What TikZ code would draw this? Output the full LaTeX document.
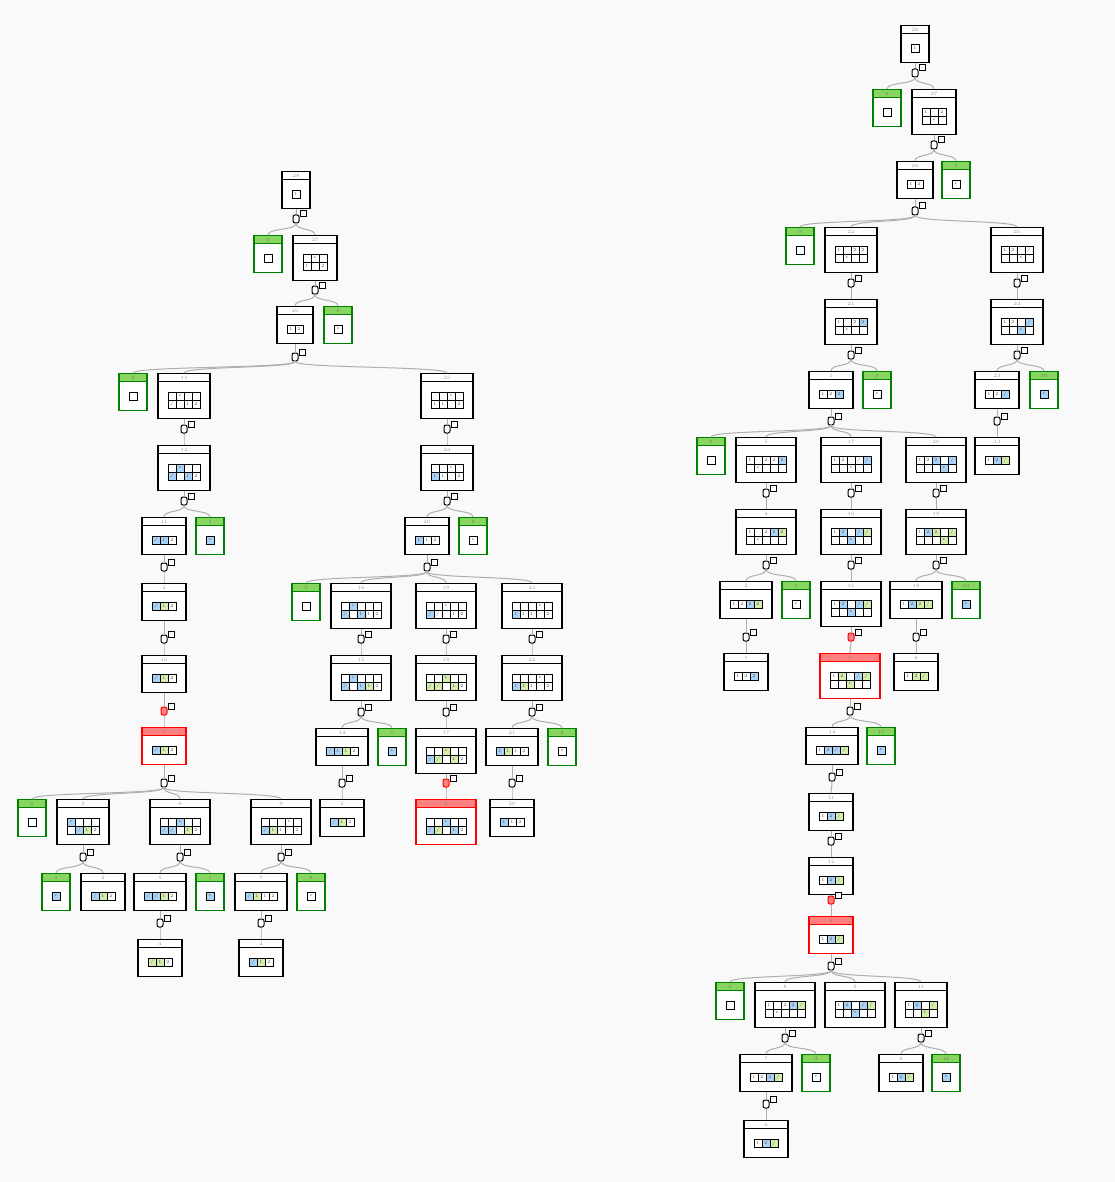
\documentclass[tikz,border=0pt]{standalone}
\usepackage{tikz}
\usetikzlibrary{calc}
\definecolor{bg}{RGB}{249,249,249}
\definecolor{okline}{RGB}{0,128,0}
\definecolor{okhead}{RGB}{136,214,96}
\definecolor{badhead}{RGB}{255,128,128}
\definecolor{cw}{RGB}{255,255,255}
\definecolor{cb}{RGB}{170,210,245}
\definecolor{cg}{RGB}{212,236,172}
\definecolor{conngray}{RGB}{175,175,175}
\definecolor{lbl}{RGB}{150,150,150}
\tikzset{
  st box/.style={draw=black, fill=white, line width=1.2pt, inner sep=0pt},
  st head/.style={draw=black, fill=white, line width=1.2pt, inner sep=0pt, text=lbl, font=\fontsize{5}{5}\selectfont},
  ok box/.style={draw=okline, fill=white, line width=1.2pt, inner sep=0pt},
  ok head/.style={draw=okline, fill=okhead, line width=1.2pt, inner sep=0pt, text=black!55, font=\fontsize{5}{5}\selectfont},
  bad box/.style={draw=red, fill=white, line width=1.2pt, inner sep=0pt},
  bad head/.style={draw=red, fill=badhead, line width=1.2pt, inner sep=0pt, text=black!50, font=\fontsize{5}{5}\selectfont},
  cell/.style={draw, line width=0.9pt, minimum size=8pt, inner sep=0pt, text=black!70, font=\fontsize{4.5}{4.5}\selectfont},
  jn/.style={draw, fill=white, line width=1pt, rounded corners=2pt, minimum width=6pt, minimum height=8pt, inner sep=0pt, font=\fontsize{3}{3}\selectfont},
  jnbad/.style={jn, draw=red, fill=badhead},
  flag/.style={draw, fill=white, line width=1pt, minimum size=6pt, inner sep=0pt, font=\fontsize{3}{3}\selectfont},
  conn/.style={draw=conngray, line width=1pt},
}
% box with a header: type, name, top centre, columns, rows, label
\newcommand\stbox[6]{%
  \node[#1 box, minimum width={8*#4+20}, minimum height={29+8*#5}, anchor=north] (#2) at (#3) {};
  \node[#1 head, minimum width={8*#4+20}, minimum height=8, anchor=north] (#2h) at (#2.north) {#6};
}
% one row of cells: box, offset, columns, list
\newcommand\cellrow[4]{%
  \foreach \c/\t [count=\i] in {#4}{
    \node[cell, fill=c\c] (#1-\i-#2) at ([shift={({(\i-(#3+1)/2)*8},#2)}]#1.center) {\t};
  }
}
% junction under a parent: name, parent, first child, style
\newcommand\jnode[4]{%
  \node[#4] (#1) at ($(#2.south |- #3.north)+(0,-16)$) {};
  \node[flag] (#1f) at ([shift={(7,-5)}]#1.center) {-};
  \draw[conn] (#2.south) -- (#1.north);
}
\newcommand\fan[2]{\foreach \k in {#2}{\draw[conn] (#1.south) .. controls +(0,7) and +(0,-7) .. (\k.north);}}
\newcommand\dt{\textbullet}
\newcommand\cslash{/}
\begin{document}
\begin{tikzpicture}[x=1pt, y=-1pt]
\fill[bg] (0,0) rectangle (1115,1182);
\useasboundingbox (0,0) rectangle (1115,1182);

% left tree
\stbox{st}{a28}{296,171}{1}{1}{28} \cellrow{a28}{4}{1}{w/1}
\stbox{ok}{a0}{268,235}{1}{1}{0} \cellrow{a0}{4}{1}{w/{}}
\stbox{st}{a27}{315,235}{3}{2}{27} \cellrow{a27}{0}{3}{w/{},w/\dt,w/{}} \cellrow{a27}{8}{3}{w/1,w/{},w/2}
\stbox{st}{a26}{295,306}{2}{1}{26} \cellrow{a26}{4}{2}{w/1,w/2}
\stbox{ok}{a8}{338,306}{1}{1}{8} \cellrow{a8}{4}{1}{w/\dt}
\stbox{ok}{a0b}{133,373}{1}{1}{0} \cellrow{a0b}{4}{1}{w/{}}
\stbox{st}{a13}{184,373}{4}{2}{13} \cellrow{a13}{0}{4}{w/{},w/\dt,w/{},w/{}} \cellrow{a13}{8}{4}{w/\cslash,w/{},w/1,w/2}
\stbox{st}{a12}{184,445}{4}{2}{12} \cellrow{a12}{0}{4}{w/{},b/\dt,w/{},w/{}} \cellrow{a12}{8}{4}{b/\cslash,w/{},b/1,w/2}
\stbox{st}{a11}{164,517}{3}{1}{11} \cellrow{a11}{4}{3}{b/\cslash,b/1,w/2}
\stbox{ok}{a1}{210,517}{1}{1}{1} \cellrow{a1}{4}{1}{b/\dt}
\stbox{st}{a4}{164,583}{3}{1}{4} \cellrow{a4}{4}{3}{b/\cslash,g/1,w/2}
\stbox{st}{a10}{164,655}{3}{1}{10} \cellrow{a10}{4}{3}{b/\cslash,g/1,w/2}
\stbox{bad}{a3}{164,727}{3}{1}{3} \cellrow{a3}{4}{3}{b/\cslash,g/1,w/2}
\stbox{ok}{b0}{32,799}{1}{1}{0} \cellrow{b0}{4}{1}{w/{}}
\stbox{st}{b3}{83,799}{4}{2}{3} \cellrow{b3}{0}{4}{b/\dt,w/{},w/{},w/{}} \cellrow{b3}{8}{4}{w/{},b/\cslash,g/1,w/2}
\stbox{st}{b6}{180,799}{5}{2}{6} \cellrow{b6}{0}{5}{w/{},w/{},b/\dt,w/{},w/{}} \cellrow{b6}{8}{5}{b/\cslash,b/\cslash,w/{},g/1,w/2}
\stbox{st}{b9}{281,799}{5}{2}{9} \cellrow{b9}{0}{5}{w/{},w/{},w/{},w/\dt,w/{}} \cellrow{b9}{8}{5}{b/\cslash,g/1,w/1,w/{},w/2}
\stbox{ok}{b1}{56,873}{1}{1}{1} \cellrow{b1}{4}{1}{b/\dt}
\stbox{st}{b2}{103,873}{3}{1}{2} \cellrow{b2}{4}{3}{b/\cslash,g/1,w/2}
\stbox{st}{b5}{160,873}{4}{1}{5} \cellrow{b5}{4}{4}{b/\cslash,b/\cslash,g/1,w/2}
\stbox{ok}{b1b}{210,873}{1}{1}{1} \cellrow{b1b}{4}{1}{b/\dt}
\stbox{st}{b7}{261,873}{4}{1}{7} \cellrow{b7}{4}{4}{b/\cslash,g/1,w/1,w/2}
\stbox{ok}{b8}{311,873}{1}{1}{8} \cellrow{b8}{4}{1}{w/\dt}
\stbox{st}{b4}{160,939}{3}{1}{4} \cellrow{b4}{4}{3}{g/\cslash,g/1,w/2}
\stbox{st}{b2b}{261,939}{3}{1}{2} \cellrow{b2b}{4}{3}{b/\cslash,g/1,w/2}

% middle tree
\stbox{st}{a25}{447,373}{4}{2}{25} \cellrow{a25}{0}{4}{w/{},w/{},w/\dt,w/{}} \cellrow{a25}{8}{4}{w/1,w/1,w/{},w/2}
\stbox{st}{a24}{447,445}{4}{2}{24} \cellrow{a24}{0}{4}{w/{},w/{},w/\dt,w/{}} \cellrow{a24}{8}{4}{b/1,w/1,w/{},w/2}
\stbox{st}{a20}{427,517}{3}{1}{20} \cellrow{a20}{4}{3}{b/1,w/1,w/2}
\stbox{ok}{a8b}{473,517}{1}{1}{8} \cellrow{a8b}{4}{1}{w/\dt}
\stbox{ok}{c0}{306,583}{1}{1}{0} \cellrow{c0}{4}{1}{w/{}}
\stbox{st}{c16}{361,583}{5}{2}{16} \cellrow{c16}{0}{5}{w/{},b/\dt,w/{},w/{},w/{}} \cellrow{c16}{8}{5}{b/\cslash,w/{},b/1,w/1,w/2}
\stbox{st}{c19}{446,583}{5}{2}{19} \cellrow{c19}{0}{5}{w/{},w/{},w/\dt,w/{},w/{}} \cellrow{c19}{8}{5}{b/\cslash,w/\cslash,w/{},w/1,w/2}
\stbox{st}{c23}{532,583}{5}{2}{23} \cellrow{c23}{0}{5}{w/{},w/{},w/{},w/\dt,w/{}} \cellrow{c23}{8}{5}{b/1,w/1,w/1,w/{},w/2}
\stbox{st}{c15}{361,655}{5}{2}{15} \cellrow{c15}{0}{5}{w/{},b/\dt,w/{},w/{},w/{}} \cellrow{c15}{8}{5}{b/\cslash,w/{},b/1,g/1,w/2}
\stbox{st}{c18}{446,655}{5}{2}{18} \cellrow{c18}{0}{5}{w/{},w/{},g/\dt,w/{},w/{}} \cellrow{c18}{8}{5}{g/\cslash,g/\cslash,w/{},g/1,w/2}
\stbox{st}{c22}{532,655}{5}{2}{22} \cellrow{c22}{0}{5}{w/{},w/{},w/{},w/\dt,w/{}} \cellrow{c22}{8}{5}{b/1,g/1,w/1,w/{},w/2}
\stbox{st}{c14}{342,728}{4}{1}{14} \cellrow{c14}{4}{4}{b/\cslash,b/1,g/1,w/2}
\stbox{ok}{c1}{392,728}{1}{1}{1} \cellrow{c1}{4}{1}{b/\dt}
\stbox{st}{c17}{446,728}{5}{2}{17} \cellrow{c17}{0}{5}{w/{},w/{},g/\dt,w/{},w/{}} \cellrow{c17}{8}{5}{b/\cslash,g/\cslash,w/{},g/1,w/2}
\stbox{st}{c21}{512,728}{4}{1}{21} \cellrow{c21}{4}{4}{b/1,g/1,w/1,w/2}
\stbox{ok}{c8}{562,728}{1}{1}{8} \cellrow{c8}{4}{1}{w/\dt}
\stbox{st}{c2}{342,799}{3}{1}{2} \cellrow{c2}{4}{3}{b/\cslash,g/1,w/2}
\stbox{bad}{c6}{446,799}{5}{2}{6} \cellrow{c6}{0}{5}{w/{},w/{},b/\dt,w/{},w/{}} \cellrow{c6}{8}{5}{b/\cslash,g/\cslash,w/{},b/1,w/2}
\stbox{st}{c20}{512,799}{3}{1}{20} \cellrow{c20}{4}{3}{b/1,w/1,w/2}

% right tree
\stbox{st}{r28}{915,25}{1}{1}{28} \cellrow{r28}{4}{1}{w/1}
\stbox{ok}{r0}{887,89}{1}{1}{0} \cellrow{r0}{4}{1}{w/{}}
\stbox{st}{r27}{934,89}{3}{2}{27} \cellrow{r27}{0}{3}{w/1,w/{},w/2} \cellrow{r27}{8}{3}{w/{},w/\dt,w/{}}
\stbox{st}{r26}{915,161}{2}{1}{26} \cellrow{r26}{4}{2}{w/1,w/2}
\stbox{ok}{r5}{956,161}{1}{1}{5} \cellrow{r5}{4}{1}{w/\dt}
\stbox{ok}{r0b}{800,227}{1}{1}{0} \cellrow{r0b}{4}{1}{w/{}}
\stbox{st}{r22}{851,227}{4}{2}{22} \cellrow{r22}{0}{4}{w/1,w/{},w/2,w/2} \cellrow{r22}{8}{4}{w/{},w/\dt,w/{},w/{}}
\stbox{st}{r25}{1017,227}{4}{2}{25} \cellrow{r25}{0}{4}{w/1,w/2,w/{},w/\cslash} \cellrow{r25}{8}{4}{w/{},w/{},w/\dt,w/{}}
\stbox{st}{r21}{851,299}{4}{2}{21} \cellrow{r21}{0}{4}{w/1,w/{},w/2,b/2} \cellrow{r21}{8}{4}{w/{},w/\dt,w/{},w/{}}
\stbox{st}{r24}{1017,299}{4}{2}{24} \cellrow{r24}{0}{4}{w/1,w/2,w/{},b/\cslash} \cellrow{r24}{8}{4}{w/{},w/{},b/\dt,w/{}}
\stbox{st}{r1}{831,371}{3}{1}{1} \cellrow{r1}{4}{3}{w/1,w/2,b/2}
\stbox{ok}{r3}{877,371}{1}{1}{3} \cellrow{r3}{4}{1}{w/\dt}
\stbox{st}{r23}{997,371}{3}{1}{23} \cellrow{r23}{4}{3}{w/1,w/2,b/\cslash}
\stbox{ok}{r10}{1044,371}{1}{1}{10} \cellrow{r10}{4}{1}{b/\dt}
\stbox{ok}{r0c}{711,437}{1}{1}{0} \cellrow{r0c}{4}{1}{w/{}}
\stbox{st}{r5b}{766,437}{5}{2}{5} \cellrow{r5b}{0}{5}{w/1,w/{},w/2,w/2,b/2} \cellrow{r5b}{8}{5}{w/{},w/\dt,w/{},w/{},w/{}}
\stbox{st}{r17}{851,437}{5}{2}{17} \cellrow{r17}{0}{5}{w/1,w/2,w/{},w/\cslash,b/\cslash} \cellrow{r17}{8}{5}{w/{},w/{},w/\dt,w/{},w/{}}
\stbox{st}{r20}{936,437}{5}{2}{20} \cellrow{r20}{0}{5}{w/1,w/2,b/2,w/{},b/\cslash} \cellrow{r20}{8}{5}{w/{},w/{},w/{},b/\dt,w/{}}
\stbox{st}{r13}{997,437}{3}{1}{13} \cellrow{r13}{4}{3}{w/1,b/2,g/\cslash}
\stbox{st}{r4}{766,509}{5}{2}{4} \cellrow{r4}{0}{5}{w/1,w/{},w/2,b/2,g/2} \cellrow{r4}{8}{5}{w/{},w/\dt,w/{},w/{},w/{}}
\stbox{st}{r16}{851,509}{5}{2}{16} \cellrow{r16}{0}{5}{w/1,b/2,w/{},b/\cslash,g/\cslash} \cellrow{r16}{8}{5}{w/{},w/{},b/\dt,w/{},w/{}}
\stbox{st}{r19}{936,509}{5}{2}{19} \cellrow{r19}{0}{5}{w/1,b/2,g/2,w/{},g/\cslash} \cellrow{r19}{8}{5}{w/{},w/{},w/{},g/\dt,w/{}}
\stbox{st}{r2}{746,581}{4}{1}{2} \cellrow{r2}{4}{4}{w/1,w/2,b/2,g/2}
\stbox{ok}{r3b}{796,581}{1}{1}{3} \cellrow{r3b}{4}{1}{w/\dt}
\stbox{st}{r15}{851,581}{5}{2}{15} \cellrow{r15}{0}{5}{w/1,b/2,w/{},b/\cslash,g/\cslash} \cellrow{r15}{8}{5}{w/{},w/{},b/\dt,w/{},w/{}}
\stbox{st}{r18}{916,581}{4}{1}{18} \cellrow{r18}{4}{4}{w/1,b/2,g/2,g/\cslash}
\stbox{ok}{r10b}{966,581}{1}{1}{10} \cellrow{r10b}{4}{1}{b/\dt}
\stbox{st}{r1b}{746,653}{3}{1}{1} \cellrow{r1b}{4}{3}{w/1,w/2,b/2}
\stbox{bad}{r9}{850,653}{5}{2}{9} \cellrow{r9}{0}{5}{w/1,g/2,w/{},b/\cslash,g/\cslash} \cellrow{r9}{8}{5}{w/{},w/{},g/\dt,w/{},w/{}}
\stbox{st}{r6}{916,653}{3}{1}{6} \cellrow{r6}{4}{3}{w/1,g/2,g/\cslash}
\stbox{st}{r14}{832,727}{4}{1}{14} \cellrow{r14}{4}{4}{w/1,b/2,b/\cslash,g/\cslash}
\stbox{ok}{r10c}{881,727}{1}{1}{10} \cellrow{r10c}{4}{1}{b/\dt}
\stbox{st}{r11}{831,793}{3}{1}{11} \cellrow{r11}{4}{3}{w/1,b/2,g/\cslash}
\stbox{st}{r12}{831,857}{3}{1}{12} \cellrow{r12}{4}{3}{w/1,b/2,g/\cslash}
\stbox{bad}{r6b}{831,916}{3}{1}{6} \cellrow{r6b}{4}{3}{w/1,b/2,g/\cslash}
\stbox{ok}{r0d}{730,982}{1}{1}{0} \cellrow{r0d}{4}{1}{w/{}}
\stbox{st}{r8}{785,982}{5}{2}{8} \cellrow{r8}{0}{5}{w/1,w/{},w/2,b/2,g/\cslash} \cellrow{r8}{8}{5}{w/{},w/\dt,w/{},w/{},w/{}}
\stbox{st}{r9b}{855,982}{5}{2}{9} \cellrow{r9b}{0}{5}{w/1,b/2,w/{},b/\cslash,g/\cslash} \cellrow{r9b}{8}{5}{w/{},w/{},b/\dt,w/{},w/{}}
\stbox{st}{r11b}{921,982}{4}{2}{11} \cellrow{r11b}{0}{4}{w/1,b/2,w/{},g/\cslash} \cellrow{r11b}{8}{4}{w/{},w/{},g/\dt,w/{}}
\stbox{st}{r7}{766,1054}{4}{1}{7} \cellrow{r7}{4}{4}{w/1,w/2,b/2,g/\cslash}
\stbox{ok}{r3c}{816,1054}{1}{1}{3} \cellrow{r3c}{4}{1}{w/\dt}
\stbox{st}{r6c}{901,1054}{3}{1}{6} \cellrow{r6c}{4}{3}{w/1,b/2,g/\cslash}
\stbox{ok}{r10d}{946,1054}{1}{1}{10} \cellrow{r10d}{4}{1}{b/\dt}
\stbox{st}{r6d}{766,1120}{3}{1}{6} \cellrow{r6d}{4}{3}{w/1,b/2,g/\cslash}

% junctions and links
\jnode{ja28}{a28}{a27}{jn} \fan{ja28}{a0,a27}
\jnode{ja27}{a27}{a26}{jn} \fan{ja27}{a26,a8}
\jnode{ja26}{a26}{a13}{jn} \fan{ja26}{a0b,a13,a25}
\jnode{ja13}{a13}{a12}{jn} \fan{ja13}{a12}
\jnode{ja12}{a12}{a11}{jn} \fan{ja12}{a11,a1}
\jnode{ja11}{a11}{a4}{jn} \fan{ja11}{a4}
\jnode{ja4}{a4}{a10}{jn} \fan{ja4}{a10}
\jnode{ja10}{a10}{a3}{jnbad} \fan{ja10}{a3}
\jnode{ja3}{a3}{b3}{jn} \fan{ja3}{b0,b3,b6,b9}
\jnode{jb3}{b3}{b2}{jn} \fan{jb3}{b1,b2}
\jnode{jb6}{b6}{b5}{jn} \fan{jb6}{b5,b1b}
\jnode{jb9}{b9}{b7}{jn} \fan{jb9}{b7,b8}
\jnode{jb5}{b5}{b4}{jn} \fan{jb5}{b4}
\jnode{jb7}{b7}{b2b}{jn} \fan{jb7}{b2b}
\jnode{ja25}{a25}{a24}{jn} \fan{ja25}{a24}
\jnode{ja24}{a24}{a20}{jn} \fan{ja24}{a20,a8b}
\jnode{ja20}{a20}{c16}{jn} \fan{ja20}{c0,c16,c19,c23}
\jnode{jc16}{c16}{c15}{jn} \fan{jc16}{c15}
\jnode{jc19}{c19}{c18}{jn} \fan{jc19}{c18}
\jnode{jc23}{c23}{c22}{jn} \fan{jc23}{c22}
\jnode{jc15}{c15}{c14}{jn} \fan{jc15}{c14,c1}
\jnode{jc18}{c18}{c17}{jn} \fan{jc18}{c17}
\jnode{jc22}{c22}{c21}{jn} \fan{jc22}{c21,c8}
\jnode{jc14}{c14}{c2}{jn} \fan{jc14}{c2}
\jnode{jc17}{c17}{c6}{jnbad} \fan{jc17}{c6}
\jnode{jc21}{c21}{c20}{jn} \fan{jc21}{c20}
\jnode{jr28}{r28}{r27}{jn} \fan{jr28}{r0,r27}
\jnode{jr27}{r27}{r26}{jn} \fan{jr27}{r26,r5}
\jnode{jr26}{r26}{r22}{jn} \fan{jr26}{r0b,r22,r25}
\jnode{jr22}{r22}{r21}{jn} \fan{jr22}{r21}
\jnode{jr25}{r25}{r24}{jn} \fan{jr25}{r24}
\jnode{jr21}{r21}{r1}{jn} \fan{jr21}{r1,r3}
\jnode{jr24}{r24}{r23}{jn} \fan{jr24}{r23,r10}
\jnode{jr23}{r23}{r13}{jn} \fan{jr23}{r13}
\jnode{jr1}{r1}{r5b}{jn} \fan{jr1}{r0c,r5b,r17,r20}
\jnode{jr5}{r5b}{r4}{jn} \fan{jr5}{r4}
\jnode{jr17}{r17}{r16}{jn} \fan{jr17}{r16}
\jnode{jr20}{r20}{r19}{jn} \fan{jr20}{r19}
\jnode{jr4}{r4}{r2}{jn} \fan{jr4}{r2,r3b}
\jnode{jr16}{r16}{r15}{jn} \fan{jr16}{r15}
\jnode{jr19}{r19}{r18}{jn} \fan{jr19}{r18,r10b}
\jnode{jr2}{r2}{r1b}{jn} \fan{jr2}{r1b}
\jnode{jr15}{r15}{r9}{jnbad} \fan{jr15}{r9}
\jnode{jr18}{r18}{r6}{jn} \fan{jr18}{r6}
\jnode{jr9}{r9}{r14}{jn} \fan{jr9}{r14,r10c}
\jnode{jr14}{r14}{r11}{jn} \fan{jr14}{r11}
\jnode{jr11}{r11}{r12}{jn} \fan{jr11}{r12}
\jnode{jr12}{r12}{r6b}{jnbad} \fan{jr12}{r6b}
\jnode{jr6}{r6b}{r8}{jn} \fan{jr6}{r0d,r8,r9b,r11b}
\jnode{jr8}{r8}{r7}{jn} \fan{jr8}{r7,r3c}
\jnode{jr11b}{r11b}{r6c}{jn} \fan{jr11b}{r6c,r10d}
\jnode{jr7}{r7}{r6d}{jn} \fan{jr7}{r6d}
\end{tikzpicture}
\end{document}
